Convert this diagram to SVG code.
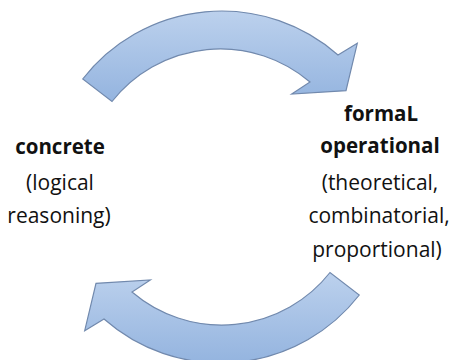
<svg xmlns="http://www.w3.org/2000/svg" width="456" height="360" viewBox="0 0 456 360">
  <defs>
    <linearGradient id="arrowFill" x1="0" y1="0" x2="0" y2="1">
      <stop offset="0" stop-color="#bcd1ed"/>
      <stop offset="1" stop-color="#94b4df"/>
    </linearGradient>
    <style>
      .arrow { fill: url(#arrowFill); stroke: #7189ad; stroke-width: 1.2; stroke-linejoin: miter; }
      .title { font-family: "Open Sans", "Liberation Sans", sans-serif; font-weight: bold; font-size: 20.5px; fill: #111; text-anchor: middle; }
      .note { font-family: "Open Sans", "Liberation Sans", sans-serif; font-size: 21px; fill: #111; text-anchor: middle; }
    </style>
  </defs>

  <!-- two curved arrows forming a cycle around a common centre (221,187) -->
  <g id="connectors">
    <path id="arrow-top" class="arrow"
      d="M82.7,79 A176,176 0 0 1 338,55 L357.3,43.3 L346,90.7 L291.7,94 L310,82 A138,138 0 0 0 112,101.5 Z"/>
    <path id="arrow-bottom" class="arrow"
      d="M359.3,295 A176,176 0 0 1 104,319 L84.7,330.7 L96,283.3 L150.3,280 L132,292 A138,138 0 0 0 330,272.5 Z"/>
  </g>

  <g id="concrete">
    <text class="title" x="60" y="154">concrete</text>
    <text class="note" x="60" y="190">(logical</text>
    <text class="note" x="59" y="223">reasoning)</text>
  </g>

  <g id="formal-operational">
    <text class="title" x="381" y="121">formaL</text>
    <text class="title" x="380" y="153">operational</text>
    <text class="note" x="380" y="190">(theoretical,</text>
    <text class="note" x="379" y="223">combinatorial,</text>
    <text class="note" x="377" y="257">proportional)</text>
  </g>
</svg>
